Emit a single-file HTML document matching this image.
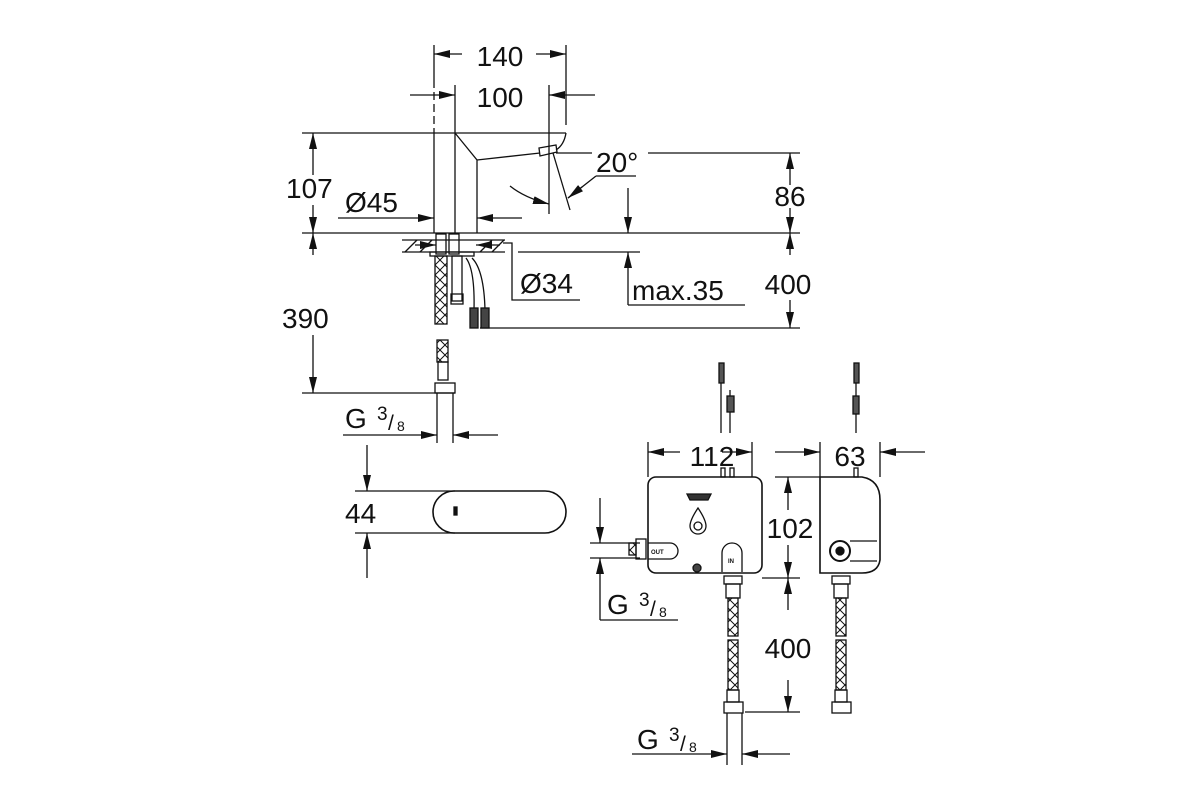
<!DOCTYPE html>
<html><head><meta charset="utf-8"><style>
html,body{margin:0;padding:0;background:#fff;}
svg{display:block;}
text{font-family:"Liberation Sans",Arial,sans-serif;fill:#111;}
</style></head><body>
<svg width="1200" height="800" viewBox="0 0 1200 800" xmlns="http://www.w3.org/2000/svg">
<defs>
<marker id="a" viewBox="0 0 16 8" refX="16" refY="4" markerWidth="16" markerHeight="8" markerUnits="userSpaceOnUse" orient="auto"><path d="M0,0 L16,4 L0,8 Z" fill="#111"/></marker>
<pattern id="x" width="10" height="10" patternUnits="userSpaceOnUse"><path d="M0,0 L10,10 M10,0 L0,10" stroke="#111" stroke-width="1"/></pattern>
</defs>
<g stroke="#111" stroke-width="1.3" fill="none">
<line x1="434" y1="45" x2="434" y2="80"/><line x1="566" y1="45" x2="566" y2="125"/>
<line x1="462" y1="54" x2="434" y2="54" marker-end="url(#a)"/>
<line x1="536" y1="54" x2="566" y2="54" marker-end="url(#a)"/>
<line x1="410" y1="95" x2="455" y2="95" marker-end="url(#a)"/>
<line x1="595" y1="95" x2="549" y2="95" marker-end="url(#a)"/>
<line x1="434" y1="80" x2="434" y2="133" stroke-dasharray="8,4"/>
<line x1="455" y1="85" x2="455" y2="133"/>
<line x1="549" y1="85" x2="549" y2="214"/>
<path d="M302,133 L566,133"/>
<path d="M434,133 L434,233 M455,133 L455,233 M455,133 L477,160 L477,233 M477,160 L540,153"/>
<path d="M566,133 Q564,145 556,150"/>
<path d="M539,148 L556,145 L557,152 L540,156 Z"/>
<line x1="313" y1="175" x2="313" y2="133" marker-end="url(#a)"/>
<line x1="313" y1="205" x2="313" y2="233" marker-end="url(#a)"/>
<line x1="313" y1="255" x2="313" y2="233" marker-end="url(#a)"/>
<line x1="313" y1="335" x2="313" y2="393" marker-end="url(#a)"/>
<line x1="302" y1="233" x2="800" y2="233"/>
<line x1="338" y1="218" x2="434" y2="218" marker-end="url(#a)"/>
<line x1="522" y1="218" x2="477" y2="218" marker-end="url(#a)"/>
<line x1="556" y1="153" x2="592" y2="153"/><line x1="648" y1="153" x2="800" y2="153"/>
<line x1="553" y1="153" x2="570" y2="210"/>
<path d="M596,176 L636,176 M596,176 L568,198" />
<line x1="582" y1="187" x2="568" y2="198" marker-end="url(#a)"/>
<path d="M510,186 Q525,198 549,204" marker-end="url(#a)"/>
<line x1="790" y1="185" x2="790" y2="153" marker-end="url(#a)"/>
<line x1="790" y1="208" x2="790" y2="233" marker-end="url(#a)"/>
<line x1="790" y1="255" x2="790" y2="233" marker-end="url(#a)"/>
<line x1="790" y1="300" x2="790" y2="328" marker-end="url(#a)"/>
<line x1="628" y1="188" x2="628" y2="233" marker-end="url(#a)"/>
<line x1="518" y1="252" x2="640" y2="252"/>
<line x1="628" y1="305" x2="628" y2="252" marker-end="url(#a)"/>
<line x1="628" y1="305" x2="745" y2="305"/>
<line x1="480" y1="328" x2="800" y2="328"/>
<path d="M503,243 L512,243 L512,300 L580,300"/>
<path d="M402,240 L505,240 M402,252 L505,252"/>
<path d="M405,252 L417,240 M420,252 L432,240 M480,252 L492,240 M492,252 L504,240" />
<rect x="436" y="234" width="10" height="20"/><rect x="449" y="234" width="10" height="20"/>
<line x1="415" y1="245" x2="436" y2="245" marker-end="url(#a)"/>
<line x1="500" y1="245" x2="476" y2="245" marker-end="url(#a)"/>
<rect x="430" y="252" width="44" height="4"/>
<rect x="435" y="256" width="12" height="68" fill="url(#x)"/>
<rect x="452" y="256" width="10" height="45"/><rect x="451" y="294" width="12" height="10"/>
<path d="M466,258 Q475,270 474,310 M472,258 Q484,270 485,310"/>
<rect x="470" y="308" width="8" height="20" fill="#444"/><rect x="481" y="308" width="8" height="20" fill="#444"/>
<rect x="437" y="340" width="11" height="22" fill="url(#x)"/>
<rect x="438" y="362" width="10" height="18"/>
<rect x="435" y="383" width="20" height="10"/>
<line x1="302" y1="393" x2="455" y2="393"/>
<line x1="437" y1="393" x2="437" y2="443"/><line x1="453" y1="393" x2="453" y2="443"/>
<line x1="343" y1="435" x2="437" y2="435" marker-end="url(#a)"/>
<line x1="498" y1="435" x2="453" y2="435" marker-end="url(#a)"/>
<line x1="367" y1="445" x2="367" y2="491" marker-end="url(#a)"/>
<line x1="367" y1="578" x2="367" y2="533" marker-end="url(#a)"/>
<line x1="355" y1="491" x2="455" y2="491"/><line x1="355" y1="533" x2="455" y2="533"/>
<rect x="433" y="491" width="133" height="42" rx="21" stroke-width="1.6"/>
<rect x="454" y="507" width="3" height="8" fill="#111"/>
<rect x="648" y="477" width="114" height="96" rx="8" stroke-width="1.6"/>
<line x1="648" y1="442" x2="648" y2="477"/><line x1="752" y1="442" x2="752" y2="477"/>
<line x1="680" y1="452" x2="648" y2="452" marker-end="url(#a)"/>
<line x1="722" y1="452" x2="752" y2="452" marker-end="url(#a)"/>
<rect x="721" y="468" width="4" height="9"/><rect x="730" y="468" width="4" height="9"/>
<path d="M721,370 L721,433 M730,390 L730,433"/>
<rect x="719" y="363" width="5" height="20" fill="#555"/><rect x="727" y="396" width="7" height="16" fill="#555"/>
<path d="M687,494 L711,494 L708,500 L690,500 Z" fill="#333"/>
<path d="M698,508 Q690,520 690,526 A8,8 0 0 0 706,526 Q706,520 698,508 Z"/>
<circle cx="698" cy="526" r="4"/>
<circle cx="697" cy="568" r="4" fill="#444"/>
<path d="M722,572 L722,553 A10,10 0 0 1 742,553 L742,572"/>
<text x="728" y="563" font-size="6" font-weight="bold" stroke="none">IN</text>
<path d="M648,543 L670,543 A8,8 0 0 1 670,559 L648,559"/>
<text x="651" y="554" font-size="6" font-weight="bold" stroke="none">OUT</text>
<rect x="636" y="539" width="10" height="20"/><rect x="629" y="543" width="7" height="12" fill="url(#x)"/>
<line x1="600" y1="498" x2="600" y2="543" marker-end="url(#a)"/>
<line x1="600" y1="620" x2="600" y2="558" marker-end="url(#a)"/>
<line x1="590" y1="543" x2="640" y2="543"/><line x1="590" y1="558" x2="640" y2="558"/>
<line x1="600" y1="620" x2="678" y2="620"/>
<path d="M820,477 L862,477 Q880,480 880,500 L880,560 Q878,573 862,573 L820,573 Z" stroke-width="1.6"/>
<line x1="820" y1="442" x2="820" y2="477"/><line x1="880" y1="442" x2="880" y2="477"/>
<line x1="775" y1="452" x2="820" y2="452" marker-end="url(#a)"/>
<line x1="925" y1="452" x2="880" y2="452" marker-end="url(#a)"/>
<path d="M856,370 L856,433"/><rect x="854" y="363" width="5" height="20" fill="#555"/><rect x="853" y="396" width="6" height="18" fill="#555"/>
<rect x="854" y="468" width="4" height="9"/>
<circle cx="840" cy="551" r="10" stroke-width="2"/><circle cx="840" cy="551" r="4" fill="#111"/>
<path d="M850,541 L877,541 M850,561 L877,561"/>
<line x1="775" y1="477" x2="820" y2="477"/>
<line x1="788" y1="510" x2="788" y2="477" marker-end="url(#a)"/>
<line x1="788" y1="545" x2="788" y2="578" marker-end="url(#a)"/>
<line x1="762" y1="578" x2="800" y2="578"/>
<line x1="788" y1="610" x2="788" y2="578" marker-end="url(#a)"/>
<line x1="788" y1="680" x2="788" y2="712" marker-end="url(#a)"/>
<line x1="745" y1="712" x2="800" y2="712"/>
<rect x="724" y="576" width="18" height="8"/><rect x="726" y="584" width="14" height="14"/>
<rect x="728" y="598" width="10" height="38" fill="url(#x)"/>
<rect x="728" y="640" width="10" height="50" fill="url(#x)"/>
<rect x="727" y="690" width="12" height="12"/><rect x="724" y="702" width="19" height="11"/>
<line x1="727" y1="713" x2="727" y2="765"/><line x1="742" y1="713" x2="742" y2="765"/>
<line x1="632" y1="754" x2="727" y2="754" marker-end="url(#a)"/>
<line x1="790" y1="754" x2="742" y2="754" marker-end="url(#a)"/>
<rect x="832" y="576" width="18" height="8"/><rect x="834" y="584" width="14" height="14"/>
<rect x="836" y="598" width="10" height="38" fill="url(#x)"/>
<rect x="836" y="640" width="10" height="50" fill="url(#x)"/>
<rect x="835" y="690" width="12" height="12"/><rect x="832" y="702" width="19" height="11"/>
</g>
<g font-size="28">
<text x="500" y="66" text-anchor="middle">140</text>
<text x="500" y="107" text-anchor="middle">100</text>
<text x="286" y="198">107</text>
<text x="345" y="212">Ø45</text>
<text x="596" y="172">20°</text>
<text x="790" y="206" text-anchor="middle">86</text>
<text x="788" y="294" text-anchor="middle">400</text>
<text x="520" y="293">Ø34</text>
<text x="632" y="300">max.35</text>
<text x="282" y="328">390</text>
<text x="345" y="428">G</text><text x="377" y="420" font-size="19">3</text><text x="388" y="430" font-size="21">/</text><text x="397" y="431" font-size="14">8</text>
<text x="345" y="523">44</text>
<text x="712" y="466" text-anchor="middle">112</text>
<text x="850" y="466" text-anchor="middle">63</text>
<text x="790" y="538" text-anchor="middle">102</text>
<text x="788" y="658" text-anchor="middle">400</text>
<text x="607" y="614">G</text><text x="639" y="606" font-size="19">3</text><text x="650" y="616" font-size="21">/</text><text x="659" y="617" font-size="14">8</text>
<text x="637" y="749">G</text><text x="669" y="741" font-size="19">3</text><text x="680" y="751" font-size="21">/</text><text x="689" y="752" font-size="14">8</text>
</g>
</svg>
</body></html>
